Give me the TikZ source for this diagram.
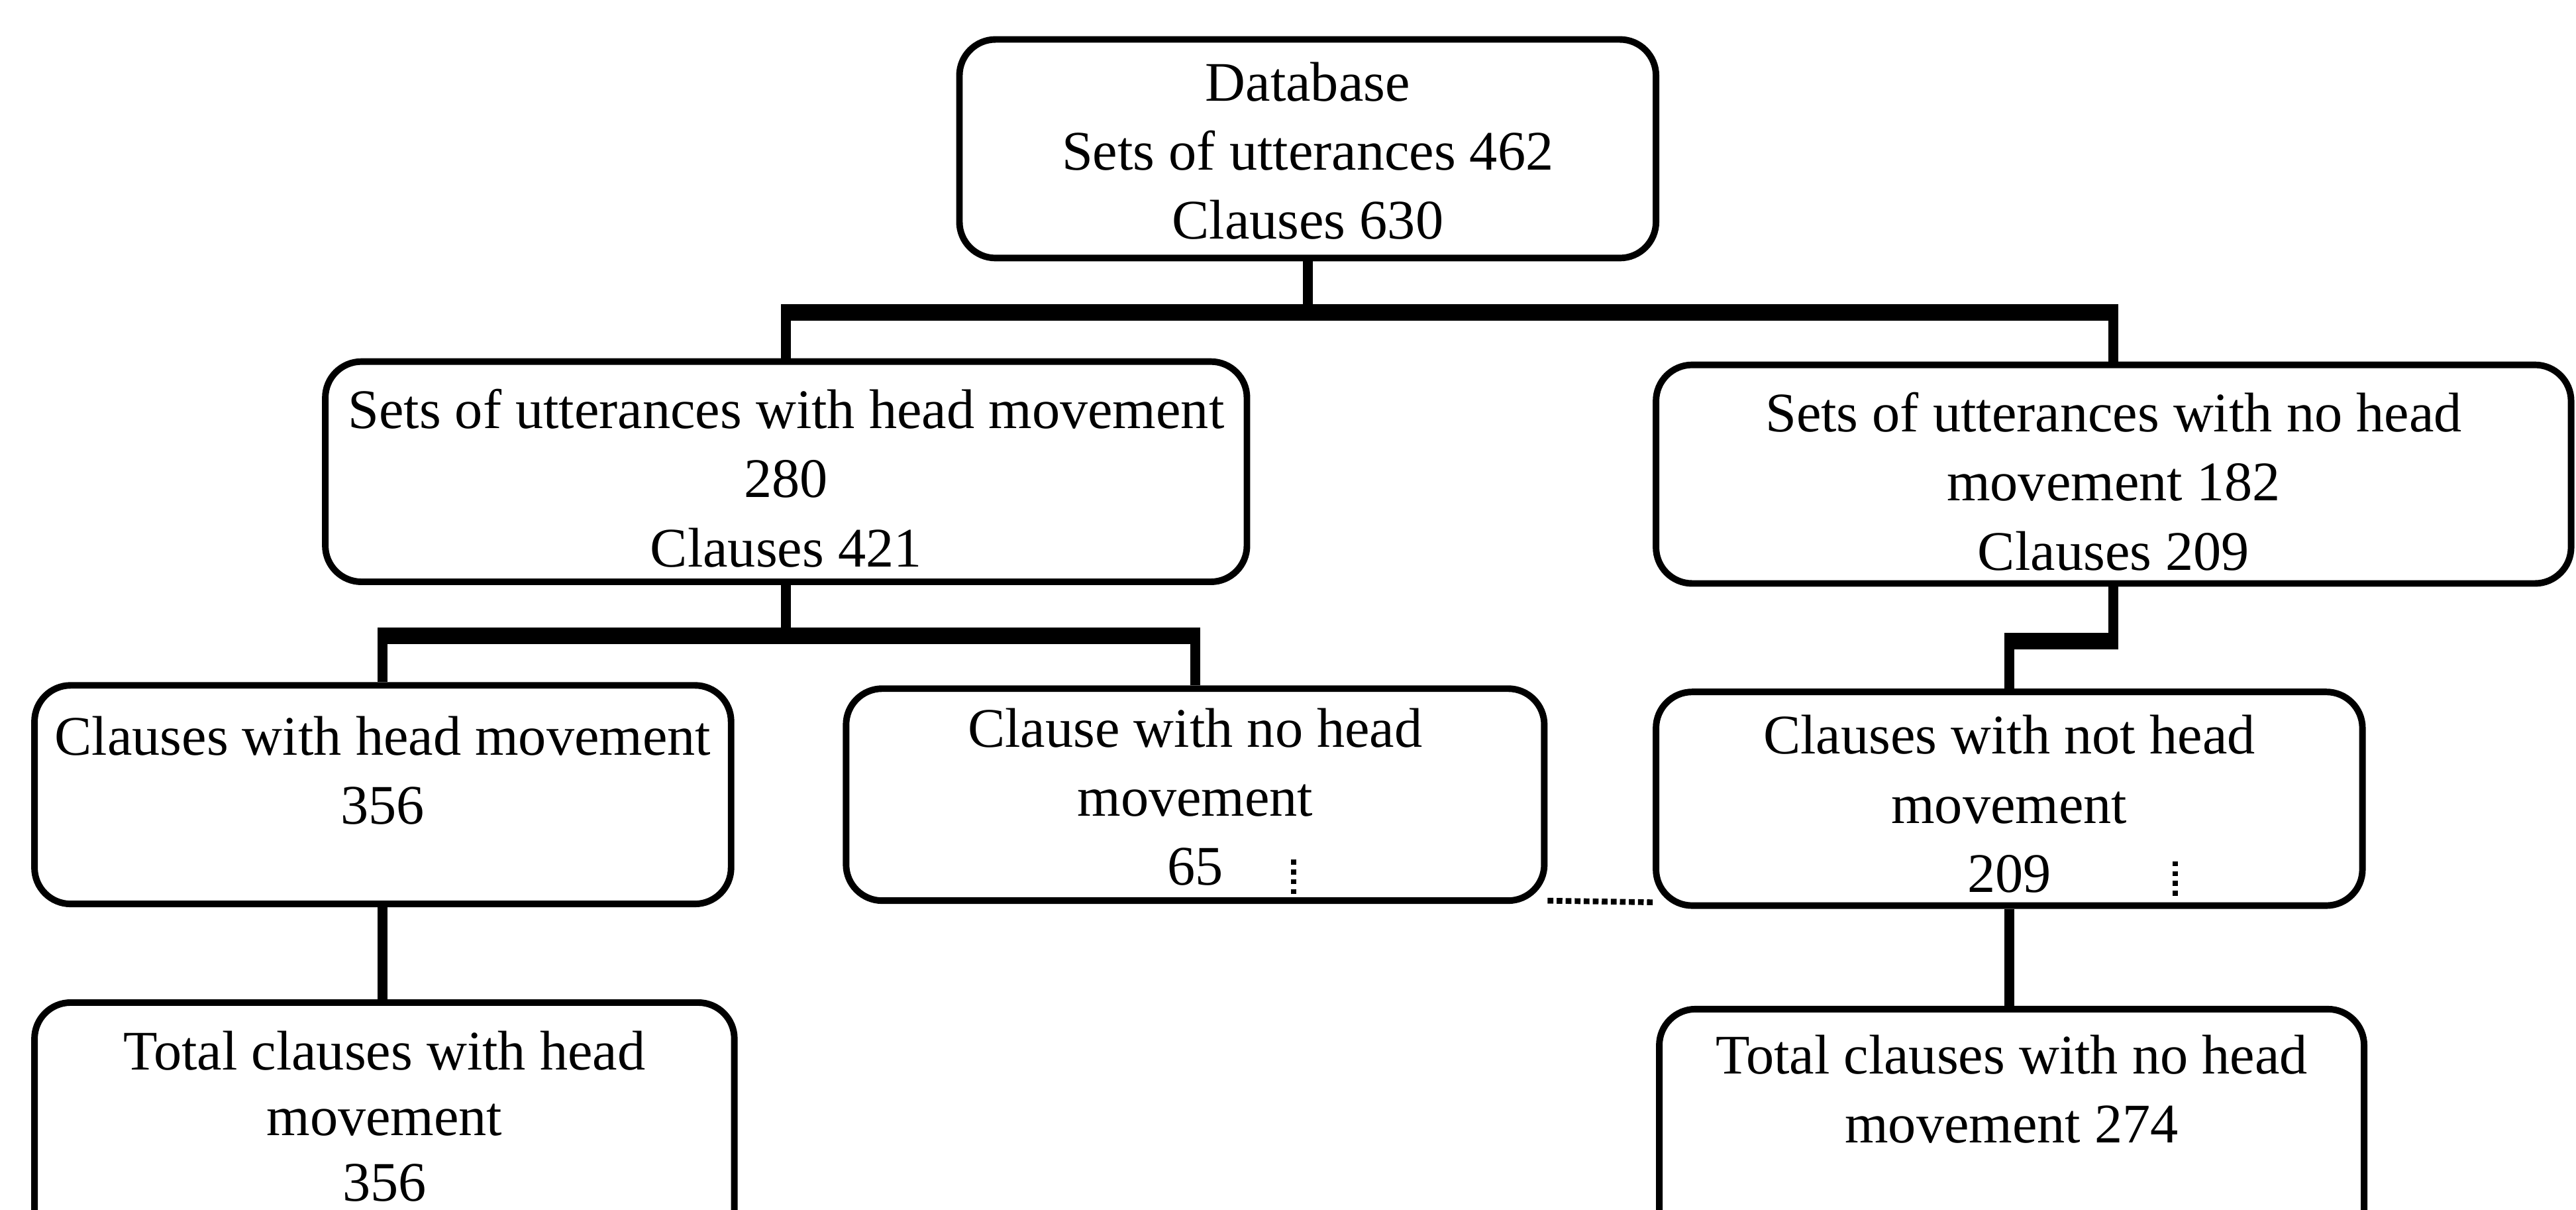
\documentclass[tikz,border=0pt]{standalone}
\usepackage{fontspec}
\setmainfont{Liberation Serif}
\usetikzlibrary{calc}
\begin{document}
\begin{tikzpicture}[x=1pt,y=-1pt,
  nbox/.style={draw, line width=4pt, rounded corners=22pt, inner sep=0pt, anchor=north west},
  ntext/.style={anchor=north, align=center, inner sep=0pt,
    font=\fontsize{34}{42}\selectfont, execute at begin node=\strut},
  trunk/.style={line width=6pt},
  bar/.style={line width=10pt, shorten <=-3pt, shorten >=-3pt},
  link/.style={line width=3.5pt, dotted},
  tick/.style={line width=3pt, dash pattern=on 3pt off 3pt}]
\useasboundingbox (0,0) rectangle (1568,736);
\clip (0,0) rectangle (1568,736);
\fill[white] (0,0) rectangle (1568,736);

% boxes
\node[nbox, minimum width=424pt, minimum height=133pt] (db) at (582,22) {};
\node[nbox, minimum width=561pt, minimum height=134pt] (l1) at (196,218) {};
\node[nbox, minimum width=557pt, minimum height=133pt] (r1) at (1006,220) {};
\node[nbox, minimum width=424pt, minimum height=133pt] (l2) at (19,415) {};
\node[nbox, minimum width=425pt, minimum height=129pt] (m2) at (513,417) {};
\node[nbox, minimum width=430pt, minimum height=130pt] (r2) at (1006,419) {};
\node[nbox, minimum width=426pt, minimum height=200pt] (l3) at (19,608) {};
\node[nbox, minimum width=429pt, minimum height=200pt] (r3) at (1008,612) {};

% box texts
\node[ntext] (dbt) at ($(db.north)+(0,15.6)$) {Database\\Sets of utterances 462\\Clauses 630};
\node[ntext] (l1t) at ($(l1.north)+(0,18.6)$) {Sets of utterances with head movement\\280\\Clauses 421};
\node[ntext] (r1t) at ($(r1.north)+(0,18.6)$) {Sets of utterances with no head\\movement 182\\Clauses 209};
\node[ntext] (l2t) at ($(l2.north)+(0,20.6)$) {Clauses with head movement\\356};
\node[ntext] (m2t) at ($(m2.north)+(0,13.6)$) {Clause with no head\\movement\\65};
\node[ntext] (r2t) at ($(r2.north)+(0,16)$) {Clauses with not head\\movement\\209};
\node[ntext, font=\fontsize{34}{40}\selectfont] (l3t) at ($(l3.north)+(0,19)$) {Total clauses with head\\movement\\356};
\node[ntext] (r3t) at ($(r3.north)+(0,17.6)$) {Total clauses with no head\\movement 274};

% database to first level
\coordinate (j1) at ($(db.south)+(0,31)$);
\draw[trunk] (db.south) -- (j1);
\draw[bar] (l1.north |- j1) -- (r1.north |- j1);
\draw[trunk] (l1.north |- j1) -- (l1.north);
\draw[trunk] (r1.north |- j1) -- (r1.north);

% head movement branch
\coordinate (j2) at ($(l1.south)+(0,31)$);
\draw[trunk] (l1.south) -- (j2);
\draw[bar] (l2.north |- j2) -- (m2.north |- j2);
\draw[trunk] (l2.north |- j2) -- (l2.north);
\draw[trunk] (m2.north |- j2) -- (m2.north);

% no head movement branch
\coordinate (j3) at ($(r1.south)+(0,33)$);
\draw[trunk] (r1.south) -- (j3);
\draw[bar] (j3) -- (r2.north |- j3);
\draw[trunk] (r2.north |- j3) -- (r2.north);

% totals
\draw[trunk] (l2.south) -- (l2.south |- l3.north);
\draw[trunk] (r2.south) -- (r2.south |- r3.north);

% dotted link between the two no-head boxes
\draw[link] ($(m2.south east)+(0,-2)$) -- ($(r2.south west)+(0,-4)$);

% small dotted marks
\draw[tick] ($(m2.south)+(60,-6)$) -- ($(m2.south)+(60,-29)$);
\draw[tick] ($(r2.south)+(101,-8)$) -- ($(r2.south)+(101,-31)$);
\end{tikzpicture}
\end{document}
